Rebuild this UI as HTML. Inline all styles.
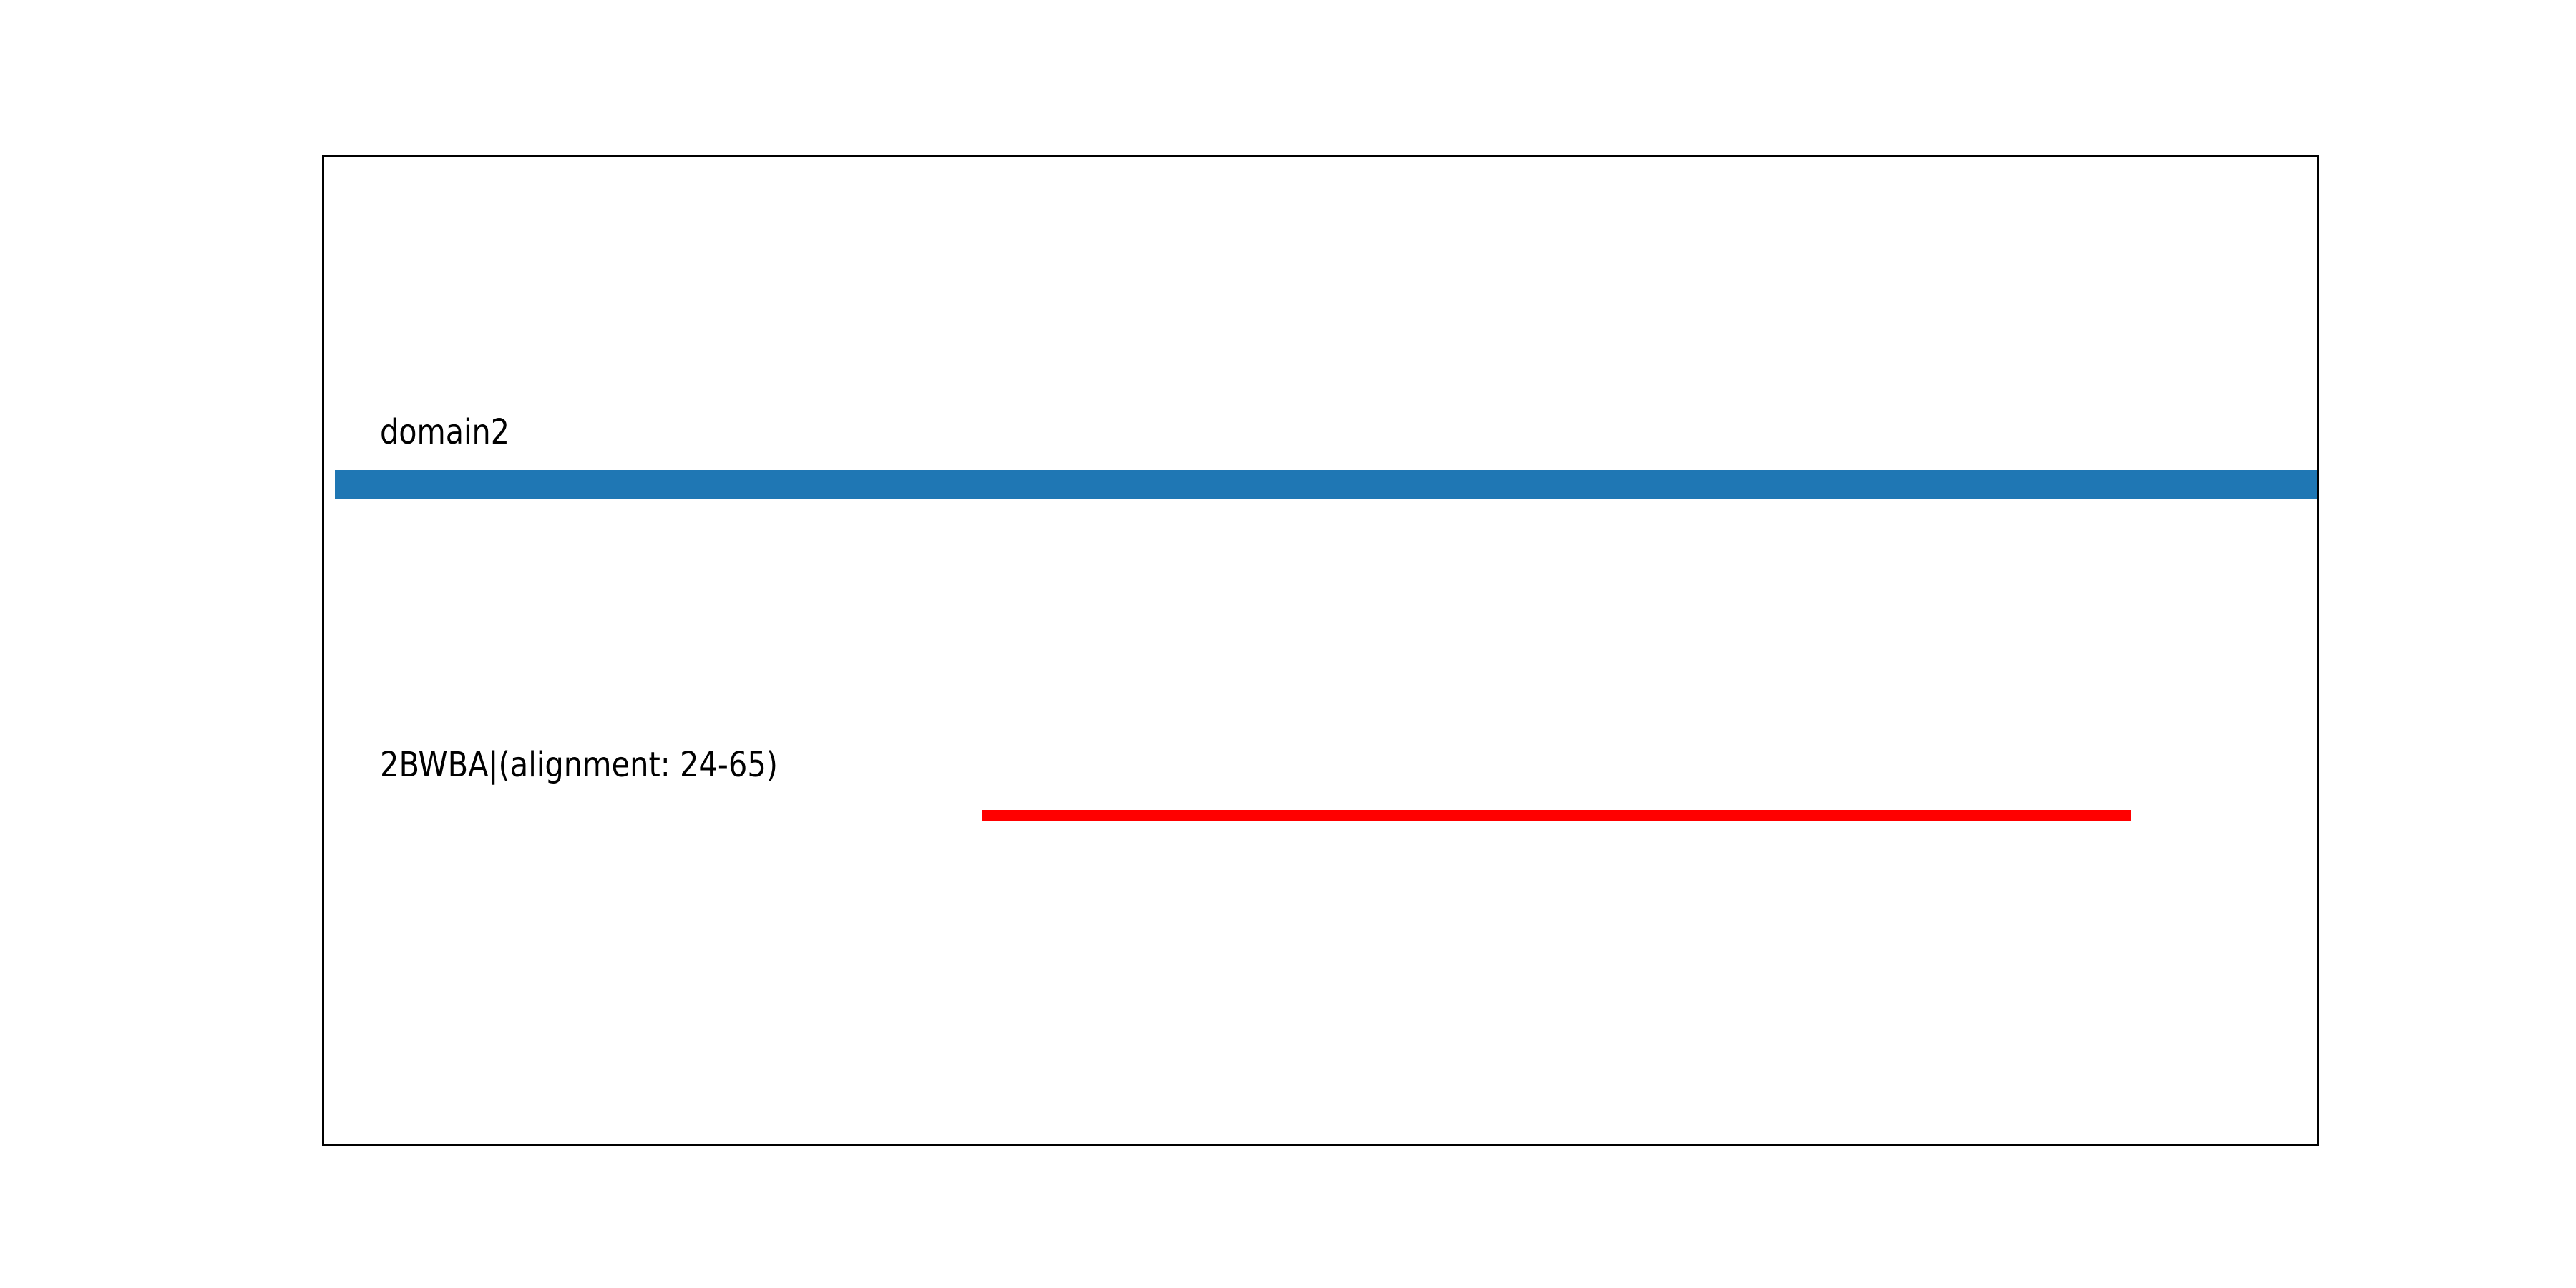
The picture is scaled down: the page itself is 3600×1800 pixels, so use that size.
<!DOCTYPE html>
<html>
<head>
<meta charset="utf-8">
<style>
html,body{margin:0;padding:0;background:#fff;}
svg{display:block;}
</style>
</head>
<body>
<svg width="3600" height="1800" viewBox="0 0 3600 1800" xmlns="http://www.w3.org/2000/svg">
<rect x="0" y="0" width="3600" height="1800" fill="#fff"/>
<rect x="468" y="657" width="2772" height="41" fill="#1f77b4"/>
<rect x="1372" y="1132" width="1606" height="16" fill="#ff0000"/>
<rect x="451.5" y="217.5" width="2788" height="1383" fill="none" stroke="#000" stroke-width="3"/>
<text x="531" y="620" font-family="DejaVu Sans, Liberation Sans, sans-serif" font-size="48" textLength="181" lengthAdjust="spacingAndGlyphs" fill="#000">domain2</text>
<text x="531" y="1085" font-family="DejaVu Sans, Liberation Sans, sans-serif" font-size="48" textLength="556" lengthAdjust="spacingAndGlyphs" fill="#000">2BWBA|(alignment: 24-65)</text>
</svg>
</body>
</html>
